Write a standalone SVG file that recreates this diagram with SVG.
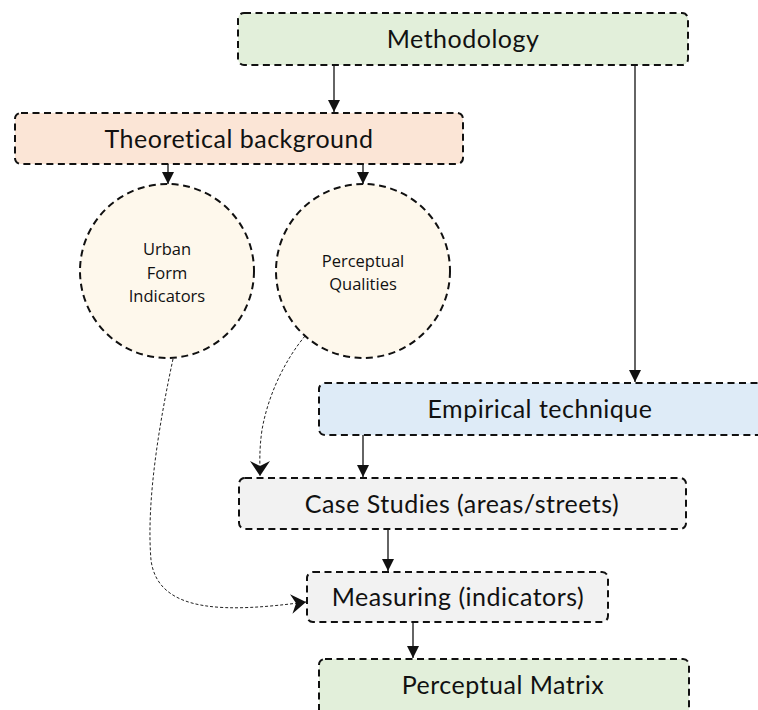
<svg xmlns="http://www.w3.org/2000/svg" width="758" height="710" viewBox="0 0 758 710">
<style>
.box{stroke:#111;stroke-width:2;stroke-dasharray:7 4.5}
.t{font-family:Lato,"Noto Sans",sans-serif;font-size:25px;letter-spacing:0.5px;fill:#111;text-anchor:middle}
.ct{font-family:"Open Sans","Noto Sans",sans-serif;font-size:16.5px;fill:#111;text-anchor:middle}
.c{stroke:#111;stroke-width:1.3;fill:none}
.d{stroke:#222;stroke-width:1;fill:none;stroke-dasharray:3 2}
</style>
<defs>
<marker id="tri" markerWidth="12" markerHeight="12" refX="10" refY="5" orient="auto" markerUnits="userSpaceOnUse" viewBox="0 0 10 10">
<path d="M0,0 L10,5 L0,10 Z" fill="#111"/>
</marker>
<marker id="chev" markerWidth="20" markerHeight="20" refX="12" refY="8" orient="auto" markerUnits="userSpaceOnUse" viewBox="0 0 16 16">
<path d="M0,0 L12,8 L0,16 L4,8 Z" fill="#111"/>
</marker>
</defs>
<g id="connectors">
<line class="c" x1="334" y1="65" x2="334" y2="112" marker-end="url(#tri)"/>
<line class="c" x1="635" y1="65" x2="635" y2="382" marker-end="url(#tri)"/>
<line class="c" x1="168" y1="164" x2="168" y2="184" marker-end="url(#tri)"/>
<line class="c" x1="363" y1="164" x2="363" y2="184" marker-end="url(#tri)"/>
<line class="c" x1="363" y1="435" x2="363" y2="477" marker-end="url(#tri)"/>
<line class="c" x1="388" y1="529" x2="388" y2="571" marker-end="url(#tri)"/>
<line class="c" x1="413" y1="622" x2="413" y2="658" marker-end="url(#tri)"/>
<path class="d" d="M305,336 C285,360 268,395 262,430 C259,450 260,465 260,476" marker-end="url(#chev)"/>
<path class="d" d="M173,359 C160,420 146,500 151,560 C158,615 230,612 306,602" marker-end="url(#chev)"/>
</g>
<g id="methodology">
<rect class="box" x="238" y="13" width="450" height="52" rx="6" fill="#e2efda"/>
<text class="t" x="463" y="48">Methodology</text>
</g>
<g id="theoretical">
<rect class="box" x="15" y="113" width="448" height="51" rx="6" fill="#fbe5d6"/>
<text class="t" x="239" y="148">Theoretical background</text>
</g>
<g id="urban">
<circle class="box" cx="167" cy="271" r="87" fill="#fef8ec"/>
<text class="ct" x="167" y="255">Urban</text>
<text class="ct" x="167" y="279">Form</text>
<text class="ct" x="167" y="302">Indicators</text>
</g>
<g id="perceptual">
<circle class="box" cx="363" cy="271" r="87" fill="#fef8ec"/>
<text class="ct" x="363" y="267">Perceptual</text>
<text class="ct" x="363" y="290">Qualities</text>
</g>
<g id="empirical">
<rect class="box" x="319" y="383" width="460" height="52" rx="6" fill="#deebf7"/>
<text class="t" x="540" y="418">Empirical technique</text>
</g>
<g id="case">
<rect class="box" x="239" y="478" width="447" height="51" rx="6" fill="#f2f2f2"/>
<text class="t" x="462" y="513">Case Studies (areas/streets)</text>
</g>
<g id="measuring">
<rect class="box" x="307" y="572" width="301" height="50" rx="6" fill="#f2f2f2"/>
<text class="t" x="458" y="606">Measuring (indicators)</text>
</g>
<g id="matrix">
<rect class="box" x="319" y="659" width="370" height="60" rx="6" fill="#e2efda"/>
<text class="t" x="503" y="694">Perceptual Matrix</text>
</g>
</svg>
